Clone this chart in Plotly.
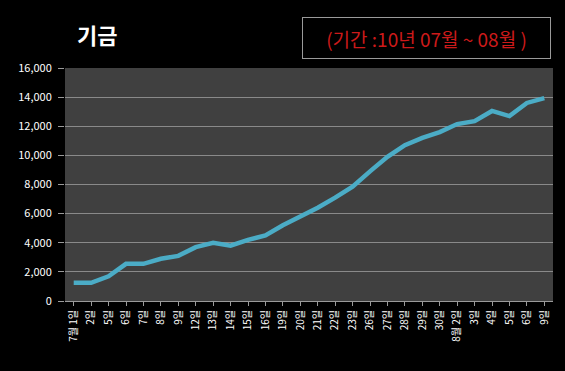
import plotly.graph_objects as go

dates = ["7월 1일", "2일", "5일", "6일", "7일", "8일", "9일", "12일", "13일", "14일",
         "15일", "16일", "19일", "20일", "21일", "22일", "23일", "26일", "27일", "28일",
         "29일", "30일", "8월 2일", "3일", "4일", "5일", "6일", "9일"]
values = [1250, 1250, 1700, 2550, 2550, 2900, 3100, 3700, 4000, 3800,
          4200, 4500, 5200, 5800, 6400, 7100, 7850, 8900, 9900, 10700,
          11200, 11600, 12150, 12350, 13050, 12700, 13600, 13930]
yticks = [0, 2000, 4000, 6000, 8000, 10000, 12000, 14000, 16000]
title_text = "기금"
period_text = "(기간 :10년 07월 ~ 08월 )"

FONT = "Noto Sans CJK KR"

fig = go.Figure()
fig.add_trace(go.Scatter(
    x=list(range(len(dates))), y=values, mode="lines",
    line=dict(color="#4bacc6", width=4.5),
    hoverinfo="skip",
))

fig.update_layout(
    width=565, height=371,
    paper_bgcolor="#000000",
    plot_bgcolor="#404040",
    margin=dict(l=65, r=12, t=68, b=70),
    showlegend=False,
    font=dict(family=FONT, color="#ffffff", size=10),
    xaxis=dict(
        tickmode="array",
        tickvals=list(range(len(dates))),
        ticktext=dates,
        range=[-0.5, len(dates) - 0.5],
        tickangle=-90,
        showgrid=False,
        zeroline=False,
        ticks="outside", ticklen=4, tickcolor="#9a9a9a",
        showline=True, linecolor="#9a9a9a", linewidth=1,
        tickfont=dict(size=10, color="#ffffff", family=FONT),
    ),
    yaxis=dict(
        range=[0, 16000],
        tickmode="array",
        tickvals=yticks,
        ticktext=[f"{v:,}" for v in yticks],
        showgrid=True, gridcolor="#8a8a8a", gridwidth=1,
        zeroline=False,
        ticks="outside", ticklen=6, tickcolor="#9a9a9a",
        ticklabelstandoff=4,
        showline=False,
        tickfont=dict(size=11, color="#ffffff", family=FONT),
    ),
    annotations=[
        dict(text=f"<b>{title_text}</b>", xref="paper", yref="paper",
             x=0.02, y=1.145, xanchor="left", yanchor="middle",
             showarrow=False, font=dict(size=22, color="#ffffff", family=FONT)),
        dict(text=period_text, xref="paper", yref="paper",
             x=0.741, y=1.129, xanchor="center", yanchor="middle",
             showarrow=False, width=243, height=36,
             bordercolor="#9a9a9a", borderwidth=1, borderpad=2,
             font=dict(size=19, color="#cc1a1a", family=FONT)),
    ],
)

fig.write_html(
    "out.html",
    config={"displayModeBar": False},
    post_script="document.body.style.margin='0';document.body.style.padding='0';"
                "document.body.style.background='#000';"
                "document.body.style.overflow='hidden';"
                "window.dispatchEvent(new Event('resize'));",
)
